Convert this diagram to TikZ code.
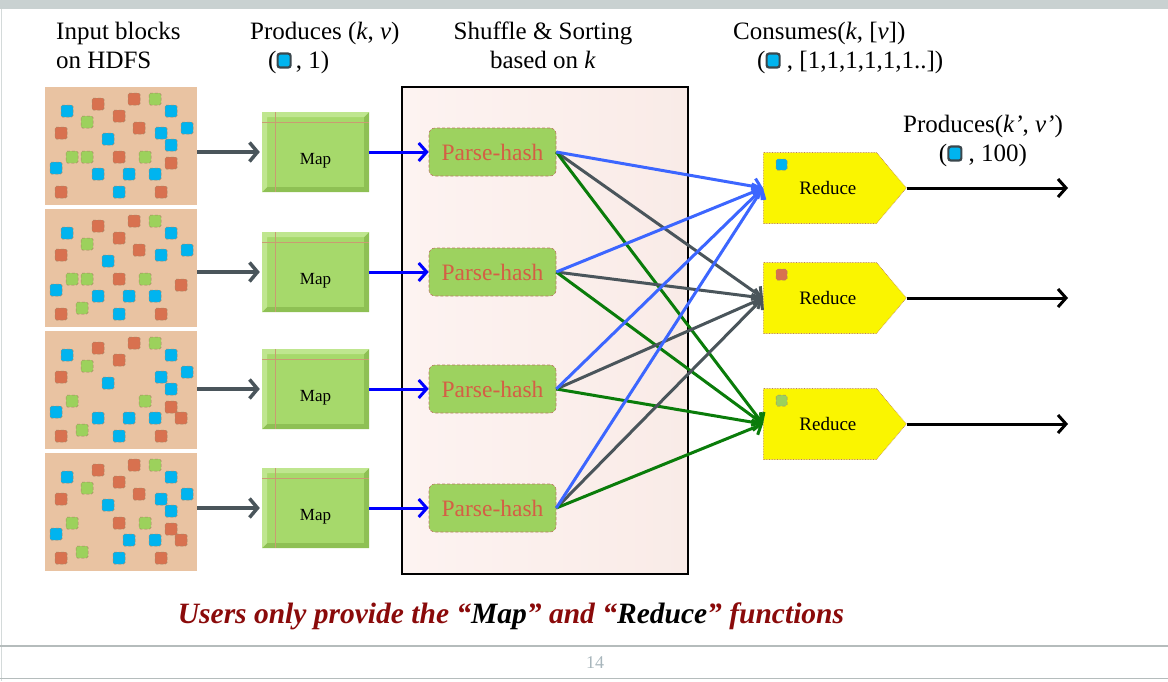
\documentclass[tikz,border=0pt]{standalone}
\usepackage{fontspec}
\setmainfont{Liberation Serif}
\usetikzlibrary{arrows.meta,shapes.symbols,positioning}

\definecolor{peach}{HTML}{E9C3A2}
\definecolor{sqcyan}{HTML}{00B4EF}
\definecolor{sqorange}{HTML}{D8714F}
\definecolor{sqgreen}{HTML}{9CD15C}
\definecolor{sqedge}{HTML}{A88566}
\definecolor{mapgreen}{HTML}{A6D96B}
\definecolor{maplight}{HTML}{BFE68F}
\definecolor{mapdark}{HTML}{8EC054}
\definecolor{tanline}{HTML}{C99C72}
\definecolor{hashgreen}{HTML}{9DD25F}
\definecolor{hashedge}{HTML}{B97A62}
\definecolor{hashtext}{HTML}{D45F45}
\definecolor{redyellow}{HTML}{FAF500}
\definecolor{arrowgray}{HTML}{4A555B}
\definecolor{xblue}{HTML}{3C66FF}
\definecolor{xgreen}{HTML}{0A7C0A}
\definecolor{mapblue}{HTML}{0000FF}
\definecolor{notered}{HTML}{8A0A0A}
\definecolor{slidegray}{HTML}{C9D1D1}
\definecolor{pagegray}{HTML}{A8B6BC}
\definecolor{keyedge}{HTML}{3A474D}
\definecolor{shufleft}{HTML}{FDF3F1}
\definecolor{shufright}{HTML}{F9EBE7}

\newcommand{\keybox}{\tikz[baseline=-1pt]\draw[keyedge,line width=2.2pt,fill=sqcyan,rounded corners=2.5pt] (0pt,0pt) rectangle (13pt,14pt);}

\tikzset{
  head/.style={inner sep=0pt,font=\fontsize{25}{29}\selectfont},
  blk/.style={fill=peach,minimum width=152pt,minimum height=118pt,inner sep=0pt},
  sq/.style={draw=sqedge,densely dashed,line width=0.5pt,rounded corners=1.5pt},
  mapbox/.style={fill=mapgreen,minimum width=107pt,minimum height=80pt,inner sep=0pt,
    text height=26pt,text depth=2pt,font=\fontsize{17}{20}\selectfont,
    path picture={
      \fill[mapdark] (path picture bounding box.south west) -- (path picture bounding box.south east)
        -- (path picture bounding box.north east) -- ([xshift=-5pt,yshift=-5pt]path picture bounding box.north east)
        -- ([xshift=-5pt,yshift=5pt]path picture bounding box.south east) -- ([xshift=5pt,yshift=5pt]path picture bounding box.south west) -- cycle;
      \fill[maplight] (path picture bounding box.south west) -- (path picture bounding box.north west)
        -- (path picture bounding box.north east) -- ([xshift=-5pt,yshift=-5pt]path picture bounding box.north east)
        -- ([xshift=5pt,yshift=-5pt]path picture bounding box.north west) -- ([xshift=5pt,yshift=5pt]path picture bounding box.south west) -- cycle;
      \draw[tanline,line width=0.6pt] ([yshift=-10pt]path picture bounding box.north west) -- ([yshift=-10pt]path picture bounding box.north east);
      \draw[tanline,line width=0.6pt] ([xshift=13pt]path picture bounding box.north west) -- ([xshift=13pt]path picture bounding box.south west);
    }},
  hashbox/.style={rectangle,rounded corners=6pt,fill=hashgreen,draw=hashedge,densely dashed,line width=0.6pt,
    minimum width=127pt,minimum height=48pt,inner sep=0pt,text=hashtext,font=\fontsize{23.5}{26}\selectfont},
  reducebox/.style={signal,signal to=east,signal pointer angle=100,fill=redyellow,draw=hashedge,densely dotted,
    line width=0.6pt,minimum width=143pt,minimum height=71pt,inner sep=0pt,font=\fontsize{19}{22}\selectfont},
  feed/.style={arrowgray,line width=3.5pt,-{Straight Barb[length=8pt,width=19pt]}},
  emit/.style={mapblue,line width=3pt,-{Straight Barb[length=8pt,width=18pt]}},
  cross/.style={line width=3pt,-{Straight Barb[length=7pt,width=16pt]}},
  result/.style={black,line width=3pt,-{Straight Barb[length=8pt,width=18pt]}}
}

\begin{document}
\begin{tikzpicture}[x=1pt,y=-1pt]
\useasboundingbox (0,0) rectangle (1168,681);
% slide frame
\fill[slidegray] (0,0) rectangle (1168,9);
\draw[slidegray!80,line width=1pt] (1.5,9) -- (1.5,681);
\draw[slidegray!90!black,line width=1.5pt] (0,646) -- (1168,646);
\draw[slidegray!90!black,line width=1pt] (0,678) -- (1168,678);

% headings
\node[head,anchor=north west,align=left] (lblinput) at (56,22) {Input blocks\\on HDFS};
\node[head,anchor=north west,align=left] (lblprod) at (250,22) {Produces (\textit{k}, \textit{v})\\\hspace*{18pt}(\keybox\,, 1)};
\node[head,anchor=north,align=center] (lblshuf) at (543,22) {Shuffle \& Sorting\\based on \textit{k}};
\node[head,anchor=north west,align=left] (lblcons) at (733,22) {Consumes(\textit{k}, [\textit{v}])\\\hspace*{24pt}(\keybox\ , [1,1,1,1,1,1..])};
\node[head,anchor=north,align=center] (lblout) at (983,115) {Produces(\textit{k’}, \textit{v’})\\(\keybox\ , 100)};

% shuffle area
\node[draw=black,line width=1.2pt,left color=shufleft,right color=shufright,minimum width=286pt,minimum height=487pt] (shuffle) at (545,330.5) {};

% input blocks with keys
\foreach \t [count=\i] in {87,209,331,453}{
  \node[blk,anchor=north west] (blk\i) at (45,\t) {};
  \foreach \c/\x/\y in {sqcyan/22/24,sqorange/53/17,sqorange/89/12,sqgreen/110/12,sqcyan/126/24,sqorange/74/29,
      sqgreen/42/35,sqcyan/142/41,sqorange/16/46,sqcyan/116/46,sqcyan/63/52,sqgreen/27/70,sqgreen/100/70,
      sqcyan/11/81,sqcyan/84/87,sqcyan/110/87,sqorange/16/105,sqcyan/74/105,sqorange/116/105}
    \path[sq,fill=\c] (45+\x-6,\t+\y-6) rectangle +(12,12);
}
\foreach \c/\x/\y in {sqorange/94/41,sqcyan/126/58,sqgreen/42/70,sqorange/74/70,sqorange/126/76,sqcyan/53/87}
  \path[sq,fill=\c] (45+\x-6,87+\y-6) rectangle +(12,12);
\foreach \c/\x/\y in {sqorange/94/41,sqgreen/42/70,sqorange/74/70,sqorange/136/76,sqcyan/53/87,sqgreen/37/99}
  \path[sq,fill=\c] (45+\x-6,209+\y-6) rectangle +(12,12);
\foreach \c/\x/\y in {sqcyan/126/58,sqorange/126/76,sqorange/136/87,sqcyan/53/87,sqgreen/37/99}
  \path[sq,fill=\c] (45+\x-6,331+\y-6) rectangle +(12,12);
\foreach \c/\x/\y in {sqorange/94/41,sqcyan/126/58,sqorange/74/70,sqorange/126/76,sqorange/136/87,sqgreen/37/99}
  \path[sq,fill=\c] (45+\x-6,453+\y-6) rectangle +(12,12);

% map, parse-hash
\foreach \y [count=\i] in {152,272,389,508}{
  \node[mapbox] (map\i) at (315.5,\y) {Map};
  \node[hashbox] (hash\i) at (492.5,\y) {Parse-hash};
  \draw[feed] (blk\i.east |- map\i.west) -- ([xshift=-2pt]map\i.west);
  \draw[emit] (map\i.east) -- (hash\i.west);
}

% reducers
\foreach \y/\c [count=\j] in {188/sqcyan,298/sqorange,424/sqgreen}{
  \node[reducebox,anchor=west] (red\j) at (763,\y) {\hspace*{16pt}Reduce};
  \path[sq,fill=\c] ([xshift=13pt,yshift=-7pt]red\j.north west) rectangle +(11,11);
  \coordinate (end\j) at (1068,\y);
  \draw[result] (red\j.east) -- (end\j);
}

% shuffle connections
\foreach \i in {1,...,4}{
  \draw[cross,arrowgray] (hash\i.east) -- (red2.west);
  \draw[cross,xgreen] (hash\i.east) -- (red3.west);
  \draw[cross,xblue] (hash\i.east) -- (red1.west);
}

% footer
\node[font=\fontsize{29.5}{34}\selectfont\bfseries\itshape,text=notered] (note) at (511,616)
  {Users only provide the “\textcolor{black}{Map}” and “\textcolor{black}{Reduce}” functions};
\node[font=\fontsize{18}{20}\selectfont,text=pagegray] (pagenum) at (595,663) {14};
\end{tikzpicture}
\end{document}
